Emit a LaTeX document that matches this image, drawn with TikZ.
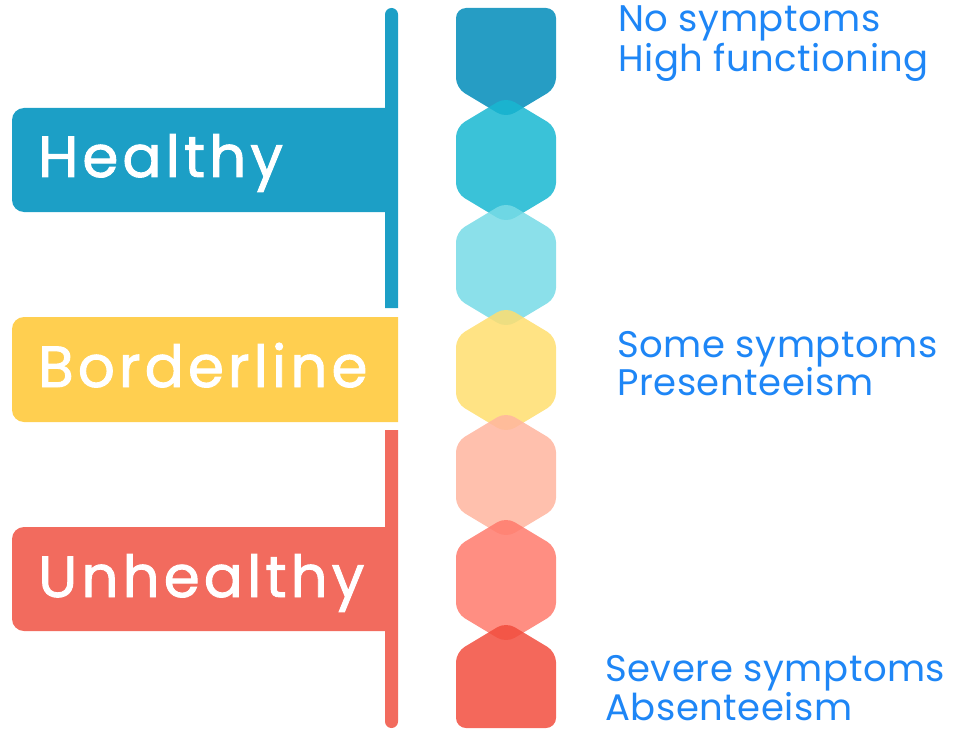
\documentclass[tikz,border=0pt]{standalone}
\usepackage{fontspec}
\setmainfont{Poppins}
\newfontfamily\barfont{Poppins}[FakeBold=1.6, LetterSpace=7]
\newfontfamily\sidefont{Poppins}[LetterSpace=1.5]
\usepackage{tikz}
\usetikzlibrary{positioning}
\definecolor{goodblue}{RGB}{28,159,198}
\definecolor{midyellow}{RGB}{255,207,80}
\definecolor{badred}{RGB}{242,107,94}
\definecolor{symblue}{RGB}{30,134,246}
\definecolor{hexa1}{RGB}{0,140,186}
\definecolor{hexa2}{RGB}{24,183,209}
\definecolor{hexa3}{RGB}{119,219,230}
\definecolor{hexa4}{RGB}{255,222,111}
\definecolor{hexa5}{RGB}{255,181,159}
\definecolor{hexa6}{RGB}{255,122,108}
\definecolor{hexa7}{RGB}{242,77,62}

\begin{document}
\begin{tikzpicture}[x=1pt, y=-1pt,
  bartext/.style={text=white, font=\barfont\fontsize{58}{58}\selectfont, anchor=base west, inner sep=0pt},
  sidetext/.style={text=symblue, font=\sidefont\fontsize{37}{37}\selectfont, anchor=base west, inner sep=0pt, text depth=0pt},
  cell/.style={fill opacity=0.85, rounded corners=10pt}]
  \useasboundingbox (0,0) rectangle (968,730);

  % Bars on the left
  \fill[goodblue] (385,108) [rounded corners=12pt] -- (12,108) -- (12,212) [sharp corners] -- (385,212) -- cycle;
  \fill[goodblue, rounded corners=6.5pt] (385,308) -- (385,8) -- (398,8) [sharp corners] -- (398,308) -- cycle;
  \fill[midyellow] (398,317) [rounded corners=12pt] -- (12,317) -- (12,422) [sharp corners] -- (398,422) -- cycle;
  \fill[badred] (385,527) [rounded corners=12pt] -- (12,527) -- (12,631) [sharp corners] -- (385,631) -- cycle;
  \fill[badred, rounded corners=6.5pt] (385,430) -- (385,728) -- (398,728) [sharp corners] -- (398,430) -- cycle;

  \node[bartext] (healthy) at (38,177) {Healthy};
  \node[bartext] (borderline) at (38,387) {Borderline};
  \node[bartext] (unhealthy) at (38,597) {Unhealthy};

  % Column of cells
  \fill[cell, hexa1] (456,88) -- (456,8) -- (556,8) -- (556,88) -- (506,118) -- cycle;
  \fill[cell, hexa2] (456,127) -- (506,97) -- (556,127) -- (556,193) -- (506,223) -- (456,193) -- cycle;
  \fill[cell, hexa3] (456,232) -- (506,202) -- (556,232) -- (556,298) -- (506,328) -- (456,298) -- cycle;
  \fill[cell, hexa4] (456,337) -- (506,307) -- (556,337) -- (556,403) -- (506,433) -- (456,403) -- cycle;
  \fill[cell, hexa5] (456,442) -- (506,412) -- (556,442) -- (556,508) -- (506,538) -- (456,508) -- cycle;
  \fill[cell, hexa6] (456,547) -- (506,517) -- (556,547) -- (556,613) -- (506,643) -- (456,613) -- cycle;
  \fill[cell, hexa7] (456,652) -- (506,622) -- (556,652) -- (556,728) -- (456,728) -- cycle;

  % Text on the right
  \node[sidetext] (nosym) at (618,32) {No symptoms};
  \node[sidetext] (highfun) at (618,72) {High functioning};
  \node[sidetext] (somesym) at (617,357) {Some symptoms};
  \node[sidetext] (presen) at (617,395) {Presenteeism};
  \node[sidetext] (severesym) at (605,681) {Severe symptoms};
  \node[sidetext] (absen) at (605,720) {Absenteeism};
\end{tikzpicture}
\end{document}
